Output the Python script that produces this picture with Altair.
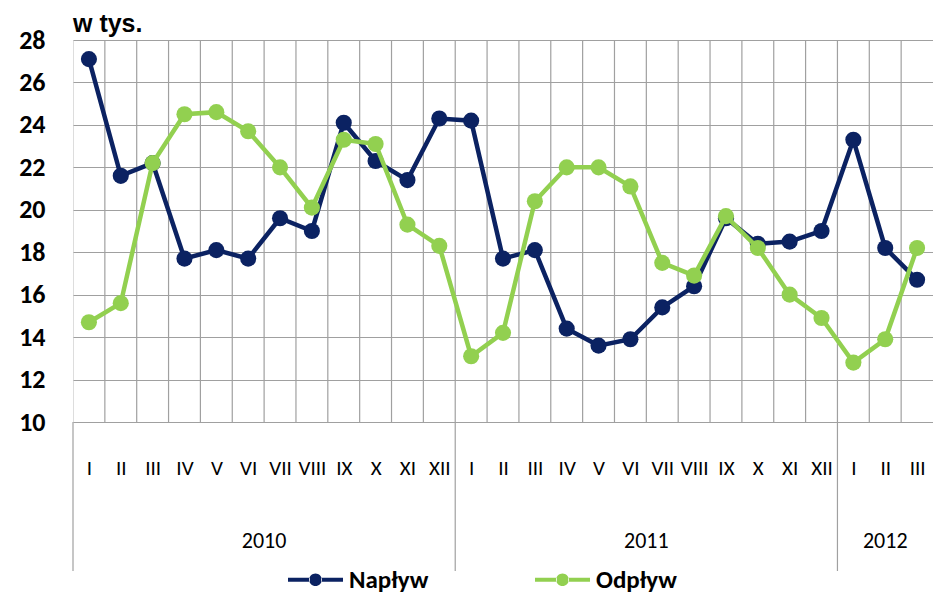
import json
import altair as alt
import pandas as pd

months = ["I", "II", "III", "IV", "V", "VI", "VII", "VIII", "IX", "X", "XI", "XII",
          "I", "II", "III", "IV", "V", "VI", "VII", "VIII", "IX", "X", "XI", "XII",
          "I", "II", "III"]
years = ["2010", "2011", "2012"]
year_start = [0, 12, 24]
year_end = [12, 24, 27]
naplyw = [27.1, 21.6, 22.2, 17.7, 18.1, 17.7, 19.6, 19.0, 24.1, 22.3, 21.4, 24.3,
          24.2, 17.7, 18.1, 14.4, 13.6, 13.9, 15.4, 16.4, 19.6, 18.4, 18.5, 19.0,
          23.3, 18.2, 16.7]
odplyw = [14.7, 15.6, 22.2, 24.5, 24.6, 23.7, 22.0, 20.1, 23.3, 23.1, 19.3, 18.3,
          13.1, 14.2, 20.4, 22.0, 22.0, 21.1, 17.5, 16.9, 19.7, 18.2, 16.0, 14.9,
          12.8, 13.9, 18.2]
series_names = ["Napływ", "Odpływ"]
series_colors = ["#0B2262", "#92D050"]
y_ticks = [10, 12, 14, 16, 18, 20, 22, 24, 26, 28]

rows = []
for i in range(len(months)):
    rows.append({"pos": i + 0.5, "seria": series_names[0], "v": naplyw[i]})
    rows.append({"pos": i + 0.5, "seria": series_names[1], "v": odplyw[i]})
df = pd.DataFrame(rows)

grid_df = pd.DataFrame({"b": list(range(1, len(months)))})
year_df = pd.DataFrame({"year": years, "s": year_start, "e": year_end,
                        "mid": [(a + b) / 2 for a, b in zip(year_start, year_end)]})

FONT = "Carlito, Liberation Sans Narrow, Liberation Sans, sans-serif"
W, H = 860, 382

xscale = alt.Scale(domain=[0, len(months)], nice=False, zero=False)
yscale = alt.Scale(domain=[10, 28], nice=False, zero=False)
color_scale = alt.Scale(domain=series_names, range=series_colors)

label_expr = json.dumps(months) + "[floor(datum.value)]"

legend_path = ("M-1,-0.075L-0.2,-0.075L-0.2,0.075L-1,0.075Z"
               "M0.2,-0.075L1,-0.075L1,0.075L0.2,0.075Z"
               "M-0.23,0A0.23,0.23 0 1,0 0.23,0A0.23,0.23 0 1,0 -0.23,0Z")
legend = alt.Legend(title=None, orient="none", legendX=215, legendY=512,
                    direction="horizontal", symbolType=legend_path, symbolSize=3025,
                    symbolStrokeWidth=0, labelFont=FONT, labelFontSize=25,
                    labelFontWeight="bold",
                    labelColor="#000000", labelOffset=6, columnPadding=106, padding=0)

x_axis = alt.Axis(values=[i + 0.5 for i in range(len(months))],
                  labelExpr=label_expr, grid=False, ticks=False,
                  domain=False, title=None, labelFont=FONT,
                  labelFontSize=21, labelColor="#000000",
                  labelPadding=35, labelOverlap=False,
                  labelFlush=False, labelBound=False)
y_axis = alt.Axis(values=y_ticks, grid=True, gridColor="#a0a0a0",
                  gridWidth=1.2, ticks=False, domain=False, title=None,
                  labelFont=FONT, labelFontSize=26, labelFontWeight="bold",
                  labelColor="#000000", labelPadding=28)

base = alt.Chart(df)

vgrid = alt.Chart(grid_df).mark_rule(color="#a0a0a0", strokeWidth=1.2).encode(
    x=alt.X("b:Q", scale=xscale, axis=x_axis),
    y=alt.datum(10, scale=yscale, axis=y_axis), y2=alt.datum(28),
)

ysep = alt.Chart(year_df).mark_rule(color="#a0a0a0", strokeWidth=1.2).encode(
    x=alt.X("s:Q", scale=xscale, axis=x_axis),
    y=alt.value(H), y2=alt.value(H + 149),
)

ytext = alt.Chart(year_df).mark_text(font=FONT, fontSize=22, color="#000000").encode(
    x=alt.X("mid:Q", scale=xscale, axis=x_axis),
    y=alt.value(H + 119),
    text="year:N",
)

layers = [vgrid, ysep, ytext]
for name, col in zip(series_names, series_colors):
    sub = base.transform_filter(alt.datum.seria == name)
    line = sub.mark_line(strokeWidth=4.5, color=col).encode(
        x=alt.X("pos:Q", scale=xscale, axis=x_axis),
        y=alt.Y("v:Q", scale=yscale, axis=y_axis),
    )
    pts = sub.mark_circle(size=260, opacity=1).encode(
        x=alt.X("pos:Q", scale=xscale, axis=x_axis),
        y=alt.Y("v:Q", scale=yscale, axis=y_axis),
        color=alt.Color("seria:N", scale=color_scale, legend=legend),
    )
    layers += [line, pts]

chart = alt.layer(*layers).properties(
    width=W, height=H,
    title=alt.TitleParams("w tys.", anchor="start", frame="group", font="Liberation Sans",
                          fontSize=25, fontWeight="bold", color="#000000", offset=-10),
    autosize="none",
    padding={"left": 65, "top": 32, "right": 0, "bottom": 174},
).configure_view(stroke="#a0a0a0", strokeWidth=1.2).configure_axisX(
    labelOverlap=False
).configure(background="white")

chart.save("out.html", embed_options={"renderer": "svg", "actions": False})
